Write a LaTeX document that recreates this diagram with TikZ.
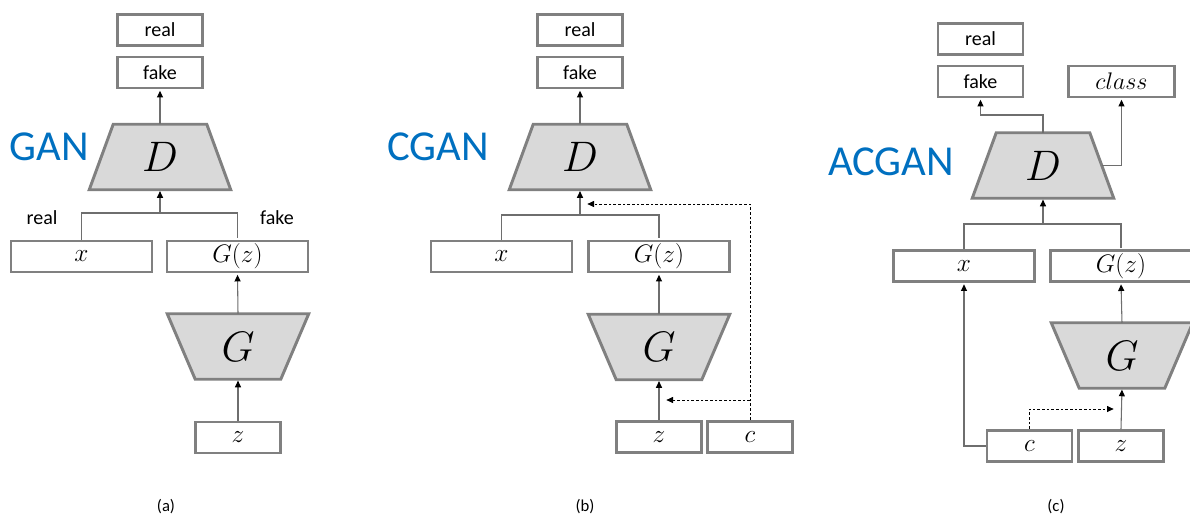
\RequirePackage{fix-cm}
\documentclass[tikz,border=0pt]{standalone}
\usepackage{fontspec}
\setmainfont{Carlito}
\usepackage{tikz}
\usetikzlibrary{arrows.meta,backgrounds}
\definecolor{boxgray}{RGB}{128,128,128}
\definecolor{netfill}{RGB}{217,217,217}
\definecolor{linegray}{RGB}{110,110,110}
\definecolor{ganblue}{RGB}{0,112,192}

\begin{document}
\begin{tikzpicture}[x=0.75pt,y=-0.75pt,>={Triangle[length=5pt,width=4.5pt,black]},shorten >=1pt,
	box/.style={shape=rectangle,draw=boxgray,line width=2.2pt,fill=white,inner sep=0pt,minimum height=23.25pt,font=\fontsize{15}{17}\selectfont},
	widebox/.style={box,minimum width=105.75pt,font=\fontsize{19}{21}\selectfont},
	smallbox/.style={box,minimum width=63.75pt},
	mathbox/.style={smallbox,font=\fontsize{19}{21}\selectfont},
	net/.style={shape=rectangle,minimum width=105.75pt,minimum height=48.75pt,inner sep=0pt,font=\fontsize{32}{34}\selectfont},
	netshape/.style={draw=boxgray,line width=2.2pt,fill=netfill,line join=miter},
	flow/.style={draw=linegray,line width=0.8pt},
	cond/.style={draw=black,line width=0.6pt,dash pattern=on 2pt off 1.5pt},
	tag/.style={font=\fontsize{15}{17}\selectfont},
	modelname/.style={text=ganblue,font=\fontsize{32}{36}\selectfont},
	sublabel/.style={font=\fontsize{12.5}{14}\selectfont}]
	\useasboundingbox (0,0) rectangle (1190,518);

	% (a) GAN
	\node[modelname] (gan) at (49,147) {GAN};
	\node[smallbox] (reala) at (160,30) {real};
	\node[smallbox] (fakea) at (160,72.5) {fake};
	\node[net] (Da) at (160,157) {$D$};
	\node[widebox] (xa) at (81.5,256.5) {$x$};
	\node[widebox] (gza) at (237.5,256.5) {$G(z)$};
	\node[net] (Ga) at (238,346.5) {$G$};
	\node[mathbox] (za) at (238,437.5) {$z$};
	\node[tag] (ra) at (42,218) {real};
	\node[tag] (fa) at (277,218) {fake};
	\node[sublabel] (capa) at (166,507) {(a)};
	\coordinate (ja) at (160,213);

	\path[flow] (xa.north) |- (ja) -| (gza.north);
	\path[flow,->] (ja) -- (Da.south);
	\path[flow,->] (Da.north) -- (fakea.south);
	\path[flow,->] (Ga.north) -- (gza.south);
	\path[flow,->] (za.north) -- (Ga.south);

	% (b) CGAN
	\node[modelname] (cgan) at (438,147) {CGAN};
	\node[smallbox] (realb) at (580,30) {real};
	\node[smallbox] (fakeb) at (580,72.5) {fake};
	\node[net] (Db) at (580,157) {$D$};
	\node[widebox] (xb) at (501.5,256.5) {$x$};
	\node[widebox] (gzb) at (659,256.5) {$G(z)$};
	\node[net] (Gb) at (659,347) {$G$};
	\node[mathbox] (zb) at (659,437) {$z$};
	\node[mathbox] (cb) at (750,437) {$c$};
	\node[sublabel] (capb) at (585,507) {(b)};
	\coordinate (jb) at (580,215);
	\coordinate (db) at (586,204);
	\coordinate (gb) at (665,400);

	\path[flow] (xb.north) |- (jb) -| (gzb.north);
	\path[flow,->] (jb) -- (Db.south);
	\path[flow,->] (Db.north) -- (fakeb.south);
	\path[flow,->] (Gb.north) -- (gzb.south);
	\path[flow,->] (zb.north) -- (Gb.south);
	\path[cond,->] (cb.north) |- (db);
	\path[cond,->] (cb.north |- gb) -- (gb);

	% (c) ACGAN
	\node[modelname] (acgan) at (891,162) {ACGAN};
	\node[smallbox] (realc) at (980.5,39) {real};
	\node[smallbox] (fakec) at (980.5,81.5) {fake};
	\node[box,minimum width=79.5pt,font=\fontsize{18}{20}\selectfont] (classc) at (1121.5,81.5) {$class$};
	\node[net] (Dc) at (1043,165.5) {$D$};
	\node[widebox] (xc) at (964,266) {$x$};
	\node[widebox] (gzc) at (1121,266) {$G(z)$};
	\node[net] (Gc) at (1122,355.5) {$G$};
	\node[mathbox] (cc) at (1029.5,446) {$c$};
	\node[mathbox] (zc) at (1121,446) {$z$};
	\node[sublabel] (capc) at (1056,507) {(c)};
	\coordinate (jc) at (1043,224);
	\coordinate (kc) at (1043,115);
	\coordinate (tc) at (1115,409);

	\path[flow] (xc.north) |- (jc) -| (gzc.north);
	\path[flow,->] (jc) -- (Dc.south);
	\path[flow,->] (Dc.north) -- (kc) -| (fakec.south);
	\path[flow,->] ([xshift=-9pt]Dc.east) -| (classc.south);
	\path[flow,->] (Gc.north) -- (gzc.south);
	\path[flow,->] (zc.north) -- (Gc.south);
	\path[flow,->] (cc.west) -| (xc.south);
	\path[cond,->] (cc.north) |- (tc);

	% trapezoid bodies behind the labels
	\begin{scope}[on background layer]
		\fill[white] (0,0) rectangle (1190,518);
		\foreach \n in {Da,Db,Dc}
			\path[netshape] (\n.south west) -- (\n.south east) -- ([xshift=-18pt]\n.north east) -- ([xshift=18pt]\n.north west) -- cycle;
		\foreach \n in {Ga,Gb,Gc}
			\path[netshape] (\n.north west) -- (\n.north east) -- ([xshift=-21pt]\n.south east) -- ([xshift=21pt]\n.south west) -- cycle;
	\end{scope}
\end{tikzpicture}
\end{document}
